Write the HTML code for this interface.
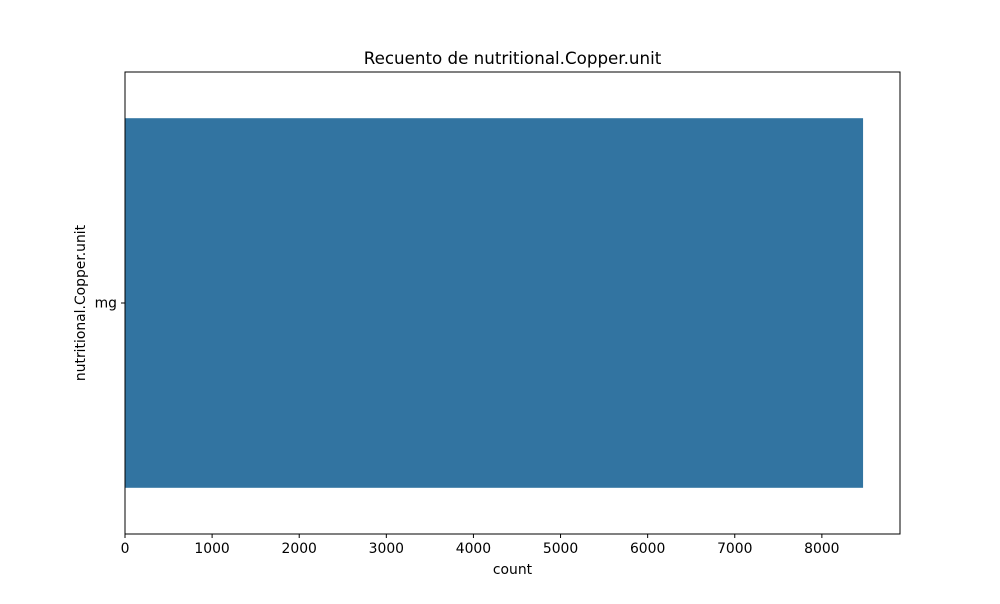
<!DOCTYPE html>
<html><head><meta charset="utf-8"><style>
body{margin:0;background:#fff;font-family:"DejaVu Sans",sans-serif;}
</style></head><body>
<svg id="chart" width="1000" height="600" xmlns="http://www.w3.org/2000/svg">
<rect width="1000" height="600" fill="#fff"/>
<text x="512.5" y="64" text-anchor="middle" font-size="16.7" font-family="DejaVu Sans, sans-serif">Recuento de nutritional.Copper.unit</text>
<g id="plot"></g>
<rect x="125" y="72" width="775" height="462" fill="none" stroke="#000" stroke-width="1"/>
<text x="512.5" y="574" text-anchor="middle" font-size="13.9" font-family="DejaVu Sans, sans-serif">count</text>
<text transform="translate(85,303) rotate(-90)" text-anchor="middle" font-size="13.9" font-family="DejaVu Sans, sans-serif">nutritional.Copper.unit</text>
</svg>
<script>
const categories = ["mg"];
const counts = [8473];
const xTicks = [0,1000,2000,3000,4000,5000,6000,7000,8000];
const xMax = 8897;
const L=125,R=900,T=72,B=534;
const ns="http://www.w3.org/2000/svg";
const g=document.getElementById('plot');
const xs=v=>L+(v/xMax)*(R-L);
const band=(B-T)/categories.length;
function mk(t,a){const e=document.createElementNS(ns,t);for(const k in a)e.setAttribute(k,a[k]);g.appendChild(e);return e;}
categories.forEach((c,i)=>{
  const cy=T+band*(i+0.5);
  const r=mk('rect',{x:L,y:cy-band*0.4,width:xs(counts[i])-L,height:band*0.8,fill:'#3274a1'});
  
  
  const tk=mk('line',{x1:L-4,x2:L,y1:cy,y2:cy,stroke:'#000'});
  
  
  const t=mk('text',{x:L-8,y:cy+4.5,'text-anchor':'end','font-size':13.9,'font-family':'DejaVu Sans, sans-serif'});
  t.textContent=c;
  
  
});
xTicks.forEach(v=>{
  const x=xs(v);
  const tk=mk('line',{x1:x,x2:x,y1:B,y2:B+4,stroke:'#000'});
  
  
  const t=mk('text',{x:x,y:B+19,'text-anchor':'middle','font-size':13.9,'font-family':'DejaVu Sans, sans-serif'});
  t.textContent=v;
  
  
});
</script>
</body></html>
